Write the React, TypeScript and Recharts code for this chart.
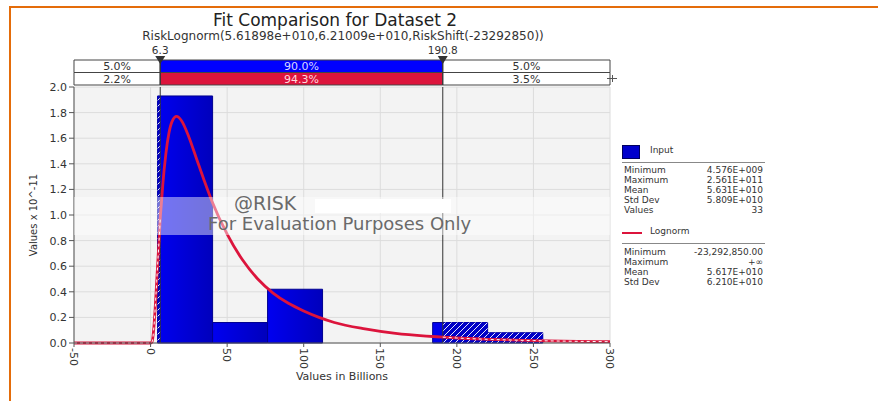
import React from 'react';
import {
  ComposedChart, Line, XAxis, YAxis, CartesianGrid, ReferenceArea, ReferenceLine,
} from 'recharts';

// histogram of the input (values in billions, density x 10^-11)
const binEdges = [4.576, 40.5, 76.4, 112.3, 148.3, 184.2, 220.1, 256.1];
const binHeights = [1.93, 0.16, 0.42, 0, 0, 0.16, 0.08];

// fitted lognormal curve
const curveX = [-50, -25, 0, 1, 2, 3, 4, 5, 6, 6.3, 7, 8, 10, 12, 14, 17, 20, 25, 30, 35, 40, 50, 60, 70, 80, 90, 100, 110, 120, 140, 160, 180, 190.8, 200, 220, 250, 280, 300];
const curveY = [0, 0, 0, 0.01, 0.1, 0.27, 0.48, 0.69, 0.9, 0.97, 1.08, 1.24, 1.48, 1.64, 1.73, 1.77, 1.74, 1.61, 1.44, 1.27, 1.11, 0.85, 0.65, 0.5, 0.39, 0.31, 0.25, 0.2, 0.16, 0.11, 0.075, 0.054, 0.046, 0.039, 0.029, 0.019, 0.013, 0.01];

const xTicks = [-50, 0, 50, 100, 150, 200, 250, 300];
const yTicks = [0, 0.2, 0.4, 0.6, 0.8, 1.0, 1.2, 1.4, 1.6, 1.8, 2.0];

const lowCut = 6.3;
const highCut = 190.8;
const inputBand = ['5.0%', '90.0%', '5.0%'];
const fitBand = ['2.2%', '94.3%', '3.5%'];

const inputStatNames = ['Minimum', 'Maximum', 'Mean', 'Std Dev', 'Values'];
const inputStatValues = ['4.576E+009', '2.561E+011', '5.631E+010', '5.809E+010', '33'];
const fitStatNames = ['Minimum', 'Maximum', 'Mean', 'Std Dev'];
const fitStatValues = ['-23,292,850.00', '+\u221e', '5.617E+010', '6.210E+010'];

const FONT = '"DejaVu Sans", Verdana, sans-serif';
const RED = '#dc143c';
const XMIN = -50;
const XMAX = 300;

const curveRows = curveX.map((x, i) => ({
  x,
  y: curveY[i],
  tail: x <= lowCut || x >= highCut ? curveY[i] : null,
}));

const bandRows = [{ x: XMIN, b: 1 }, { x: XMAX, b: 1 }];

const bins = binHeights.map((h, i) => ({ x1: binEdges[i], x2: binEdges[i + 1], h }));
const hatched: { x1: number; x2: number; h: number }[] = [];
bins.forEach(b => {
  if (b.h <= 0) return;
  if (b.x1 < lowCut) hatched.push({ x1: b.x1, x2: Math.min(b.x2, lowCut), h: b.h });
  if (b.x2 > highCut) hatched.push({ x1: Math.max(b.x1, highCut), x2: b.x2, h: b.h });
});

const XTick = (props: any) => {
  const { x, y, payload } = props;
  return (
    <g transform={`translate(${x},${y})`}>
      <text transform="rotate(90)" x={0} y={0} dy="0.35em" textAnchor="start"
        fontSize={11} fill="#333" fontFamily={FONT}>{payload.value}</text>
    </g>
  );
};

const CutMarker = (props: any) => {
  const { viewBox, text } = props;
  const x = viewBox.x;
  const y = viewBox.y;
  return (
    <g>
      <polygon points={`${x - 5},${y - 4} ${x + 5},${y - 4} ${x},${y + 4}`} fill="#333" />
      <text x={x} y={y - 6} textAnchor="middle" fontSize={10.5} fill="#333" fontFamily={FONT}>{text}</text>
    </g>
  );
};

const bandCells = (labels: string[], y1: number, y2: number, mid: string, midText: string) => {
  const edges = [XMIN, lowCut, highCut, XMAX];
  return labels.map((lab, i) => (
    <ReferenceArea key={`${y1}-${i}`} x1={edges[i]} x2={edges[i + 1]} y1={y1} y2={y2}
      fill={i === 1 ? mid : '#fff'} fillOpacity={1} stroke="#444" strokeWidth={1}
      label={{ value: lab, position: 'center', fill: i === 1 ? midText : '#333', fontSize: 11, fontFamily: FONT }} />
  ));
};

export default function App() {
  return (
    <div style={{ position: 'absolute', left: 0, top: 0, width: 878, height: 401, background: '#fff', overflow: 'hidden', fontFamily: FONT }}>
      <div style={{ position: 'absolute', left: 9, top: 6, width: 869, height: 2, background: '#e46c0a' }} />
      <div style={{ position: 'absolute', left: 9, top: 6, width: 2, height: 395, background: '#e46c0a' }} />

      <div style={{ position: 'absolute', left: 0, width: 670, top: 10, textAlign: 'center', fontSize: 17, lineHeight: '20px', color: '#222' }}>
        Fit Comparison for Dataset 2
      </div>
      <div style={{ position: 'absolute', left: 0, width: 686, top: 30, textAlign: 'center', fontSize: 12, lineHeight: '13px', color: '#333' }}>
        RiskLognorm(5.61898e+010,6.21009e+010,RiskShift(-23292850))
      </div>

      <div style={{ position: 'absolute', left: 0, top: 0 }}>
        <ComposedChart width={878} height={401} data={curveRows}
          margin={{ top: 87, right: 268, left: 0, bottom: 0 }}>
          <defs>
            <linearGradient id="barFill" x1="0" y1="0" x2="1" y2="0">
              <stop offset="0%" stopColor="#0000f0" />
              <stop offset="100%" stopColor="#0000bc" />
            </linearGradient>
            <pattern id="hatch" patternUnits="userSpaceOnUse" width="6" height="6">
              <rect width="6" height="6" fill="#0000c8" />
              <path d="M-1,7 L7,-1" stroke="#ffffff" strokeWidth="0.9" />
            </pattern>
          </defs>
          <CartesianGrid stroke="#dcdcdc" fill="#f3f3f3" fillOpacity={1} />
          <XAxis dataKey="x" type="number" domain={[XMIN, XMAX]} ticks={xTicks} allowDataOverflow
            height={58} tickSize={4} tickMargin={1} tick={<XTick />} stroke="#555"
            label={(p: any) => {
              const vb = p.viewBox;
              return <text x={vb.x + vb.width / 2} y={vb.y + 37} textAnchor="middle" fontSize={11} fill="#333" fontFamily={FONT}>Values in Billions</text>;
            }} />
          <YAxis type="number" domain={[0, 2]} ticks={yTicks} width={74} tickSize={5}
            tickFormatter={(v: number) => v.toFixed(1)} stroke="#555"
            tick={{ fontSize: 11, fill: '#333', fontFamily: FONT }}
            label={(p: any) => {
              const vb = p.viewBox;
              const cy = vb.y + vb.height / 2;
              return <text x={33} y={cy} transform={`rotate(-90,33,${cy})`} textAnchor="middle" dy="0.35em" fontSize={10} fill="#333" fontFamily={FONT}>Values x 10^-11</text>;
            }} />
          {bins.filter(b => b.h > 0).map((b, i) => (
            <ReferenceArea key={`bin${i}`} x1={b.x1} x2={b.x2} y1={0} y2={b.h}
              fill="url(#barFill)" fillOpacity={1} stroke="#000090" strokeWidth={1} />
          ))}
          {hatched.map((b, i) => (
            <ReferenceArea key={`hatch${i}`} x1={b.x1} x2={b.x2} y1={0} y2={b.h}
              fill="url(#hatch)" fillOpacity={1} stroke="none" />
          ))}
          <ReferenceLine x={lowCut} stroke="#333" strokeWidth={1} />
          <ReferenceLine x={highCut} stroke="#333" strokeWidth={1} />
          <Line dataKey="y" type="monotone" stroke={RED} strokeWidth={2.8} dot={false}
            isAnimationActive={false} />
          <Line dataKey="tail" type="monotone" stroke="#ffffff" strokeWidth={1} strokeDasharray="3 3"
            dot={false} isAnimationActive={false} connectNulls={false} />
        </ComposedChart>
      </div>

      <div style={{ position: 'absolute', left: 0, top: 0 }}>
        <ComposedChart width={878} height={92} data={bandRows}
          margin={{ top: 60, right: 268, left: 74, bottom: 7 }}>
          <XAxis dataKey="x" type="number" domain={[XMIN, XMAX]} hide allowDataOverflow />
          <YAxis type="number" domain={[0, 2]} hide allowDataOverflow />
          <Line dataKey="b" stroke="none" dot={false} isAnimationActive={false} />
          {bandCells(inputBand, 1, 2, '#0000ff', '#d8d8ff')}
          {bandCells(fitBand, 0, 1, RED, '#ffd8dc')}
          <ReferenceLine x={lowCut} stroke="#333" label={<CutMarker text="6.3" />} />
          <ReferenceLine x={highCut} stroke="#333" label={<CutMarker text="190.8" />} />
        </ComposedChart>
      </div>

      {/* small cross at the end of the fit row */}
      <div style={{ position: 'absolute', left: 607, top: 78, width: 10, height: 1, background: '#555' }} />
      <div style={{ position: 'absolute', left: 612, top: 75, width: 1, height: 7, background: '#555' }} />

      {/* evaluation watermark */}
      <div style={{ position: 'absolute', left: 74, top: 197, width: 536, height: 38, background: 'rgba(255,255,255,0.45)' }} />
      <div style={{ position: 'absolute', left: 315, top: 199, width: 136, height: 14, background: '#fff' }} />
      <div style={{ position: 'absolute', left: 234, top: 192, fontSize: 19, color: '#6a6a6a' }}>@RISK</div>
      <div style={{ position: 'absolute', left: 208, top: 213, fontSize: 18, color: '#6a6a6a' }}>For Evaluation Purposes Only</div>

      {/* legend / statistics */}
      <div style={{ position: 'absolute', left: 622, top: 145, width: 16, height: 12, background: '#0000cc', border: '1px solid #000060' }} />
      <div style={{ position: 'absolute', left: 650, top: 145, fontSize: 9, color: '#333' }}>Input</div>
      <div style={{ position: 'absolute', left: 622, top: 162, width: 143, height: 1, background: '#888' }} />
      {inputStatNames.map((n, i) => (
        <div key={n} style={{ position: 'absolute', left: 624, top: 165 + i * 10, width: 139, fontSize: 9, lineHeight: '10px', color: '#333', display: 'flex', justifyContent: 'space-between' }}>
          <span>{n}</span><span>{inputStatValues[i]}</span>
        </div>
      ))}
      <div style={{ position: 'absolute', left: 622, top: 232, width: 20, height: 2, background: RED }} />
      <div style={{ position: 'absolute', left: 650, top: 226, fontSize: 9, color: '#333' }}>Lognorm</div>
      <div style={{ position: 'absolute', left: 622, top: 243, width: 143, height: 1, background: '#888' }} />
      {fitStatNames.map((n, i) => (
        <div key={n} style={{ position: 'absolute', left: 624, top: 247 + i * 10, width: 139, fontSize: 9, lineHeight: '10px', color: '#333', display: 'flex', justifyContent: 'space-between' }}>
          <span>{n}</span><span>{fitStatValues[i]}</span>
        </div>
      ))}
    </div>
  );
}
